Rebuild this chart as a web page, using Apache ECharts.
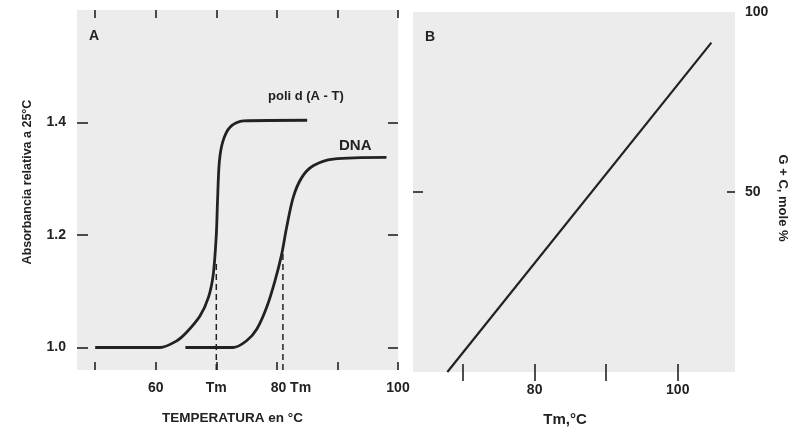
<!DOCTYPE html>
<html>
<head>
<meta charset="utf-8">
<script src="https://cdn.jsdelivr.net/npm/echarts@6/dist/echarts.min.js"></script>
<style>
body{margin:0;background:#fff;}
#chart{width:801px;height:432px;}
</style>
</head>
<body>
<div id="chart"></div>
<script>
// panel A: melting curves
var poliT = [50, 60.7, 63.5, 65.1, 67.3, 68.7, 69.5, 70.0, 70.2, 70.5, 71.1, 72.3, 74.5, 85];
var poliA = [1.0, 1.0, 1.012, 1.027, 1.056, 1.089, 1.13, 1.20, 1.26, 1.33, 1.367, 1.392, 1.403, 1.404];
var dnaT = [64.9, 72.8, 75.0, 76.7, 78.3, 79.7, 80.8, 81.6, 82.7, 84.1, 86.0, 89.3, 98.1];
var dnaA = [1.0, 1.0, 1.012, 1.033, 1.071, 1.119, 1.166, 1.213, 1.267, 1.302, 1.323, 1.335, 1.338];
var tmT = [70, 81];
var tmTop = [1.15, 1.17];
var tempTicks = [50, 60, 70, 80, 90, 100];
var tempLabels = [60, 70, 80, 100];
var absTicks = [1.0, 1.2, 1.4];

// panel B: G+C vs Tm
var gcT = [67.8, 104.7];
var gcPct = [0, 91.5];
var tmTicks = [70, 80, 90, 100];
var tmLabels = [80, 100];

function pairs(xs, ys){
  var out = [];
  for (var i = 0; i < xs.length; i++) out.push([xs[i], ys[i]]);
  return out;
}

var ink = '#222';
var font = 'Liberation Sans';
var tick = function(len, vals){
  return {show: true, inside: true, length: len, customValues: vals, lineStyle: {color: ink, width: 1.6}};
};
var lbl = {fontSize: 14, fontWeight: 'bold', color: ink};

var chart = echarts.init(document.getElementById('chart'));

var series = [
  {type: 'line', xAxisIndex: 0, yAxisIndex: 0, data: pairs(poliT, poliA), smooth: 0.3,
   showSymbol: false, lineStyle: {color: ink, width: 2.8}},
  {type: 'line', xAxisIndex: 0, yAxisIndex: 0, data: pairs(dnaT, dnaA), smooth: 0.3,
   showSymbol: false, lineStyle: {color: ink, width: 2.8}},
  {type: 'line', xAxisIndex: 2, yAxisIndex: 2, data: pairs(gcT, gcPct),
   showSymbol: false, lineStyle: {color: ink, width: 2.2}}
];
tmT.forEach(function(t, i){
  series.push({type: 'line', xAxisIndex: 0, yAxisIndex: 0, data: [[t, 0.96], [t, tmTop[i]]],
    showSymbol: false, lineStyle: {color: ink, width: 1.5, type: [6, 4]}});
});

chart.setOption({
  animation: false,
  textStyle: {fontFamily: font},
  grid: [
    {left: 77, top: 10, width: 321, height: 360, show: true, backgroundColor: '#ececec', borderWidth: 0},
    {left: 413, top: 12, width: 322, height: 360, show: true, backgroundColor: '#ececec', borderWidth: 0}
  ],
  graphic: [
    {type: 'text', left: 89, top: 29, style: {text: 'A', font: 'bold 14px ' + font, fill: ink}},
    {type: 'text', left: 425, top: 30, style: {text: 'B', font: 'bold 14px ' + font, fill: ink}},
    {type: 'text', left: 268, top: 90, style: {text: 'poli d (A - T)', font: 'bold 13px ' + font, fill: ink}},
    {type: 'text', left: 339, top: 138, style: {text: 'DNA', font: 'bold 15px ' + font, fill: ink}}
  ],
  xAxis: [
    {gridIndex: 0, type: 'value', min: 47, max: 100, position: 'bottom',
     axisLine: {show: false}, splitLine: {show: false}, axisTick: tick(8, tempTicks),
     axisLabel: Object.assign({customValues: tempLabels, margin: 11,
       formatter: function(v){ return v === 70 ? 'Tm' : (v === 80 ? '{s|80 Tm}' : String(v)); },
       rich: {s: Object.assign({padding: [0, 0, 0, 28]}, lbl)}}, lbl),
     name: 'TEMPERATURA en °C', nameLocation: 'middle', nameGap: 41,
     nameTextStyle: {fontSize: 13.5, fontWeight: 'bold', color: ink, padding: [0, 10, 0, 0]}},
    {gridIndex: 0, type: 'value', min: 47, max: 100, position: 'top',
     axisLine: {show: false}, splitLine: {show: false}, axisTick: tick(8, tempTicks), axisLabel: {show: false}},
    {gridIndex: 1, type: 'value', min: 63, max: 108, position: 'bottom',
     axisLine: {show: false}, splitLine: {show: false}, axisTick: tick(8, tmTicks),
     axisLabel: Object.assign({customValues: tmLabels, margin: 11}, lbl),
     name: 'Tm,°C', nameLocation: 'middle', nameGap: 40,
     nameTextStyle: {fontSize: 15, fontWeight: 'bold', color: ink, padding: [0, 18, 0, 0]}},
    {gridIndex: 1, type: 'value', min: 63, max: 108, position: 'top',
     axisLine: {show: false}, splitLine: {show: false}, axisTick: tick(9, tmTicks), axisLabel: {show: false}}
  ],
  yAxis: [
    {gridIndex: 0, type: 'value', min: 0.96, max: 1.6, position: 'left',
     axisLine: {show: false}, splitLine: {show: false}, axisTick: tick(11, absTicks),
     axisLabel: Object.assign({customValues: absTicks, margin: 11,
       formatter: function(v){ return v.toFixed(1); }}, lbl),
     name: 'Absorbancia relativa a 25°C', nameLocation: 'middle', nameGap: 43,
     nameTextStyle: {fontSize: 12.5, fontWeight: 'bold', color: ink, padding: [0, 0, 0, 16]}},
    {gridIndex: 0, type: 'value', min: 0.96, max: 1.6, position: 'right',
     axisLine: {show: false}, splitLine: {show: false}, axisTick: tick(10, absTicks), axisLabel: {show: false}},
    {gridIndex: 1, type: 'value', min: 0, max: 100, position: 'left',
     axisLine: {show: false}, splitLine: {show: false}, axisTick: tick(10, [50]), axisLabel: {show: false}},
    {gridIndex: 1, type: 'value', min: 0, max: 100, position: 'right',
     axisLine: {show: false}, splitLine: {show: false}, axisTick: tick(8, [50]),
     axisLabel: Object.assign({customValues: [50, 100], margin: 10}, lbl),
     name: 'G + C, mole %', nameLocation: 'middle', nameGap: 41, nameRotate: -90,
     nameTextStyle: {fontSize: 13, fontWeight: 'bold', color: ink, padding: [0, 0, 0, 12]}}
  ],
  series: series
});
</script>
</body>
</html>
